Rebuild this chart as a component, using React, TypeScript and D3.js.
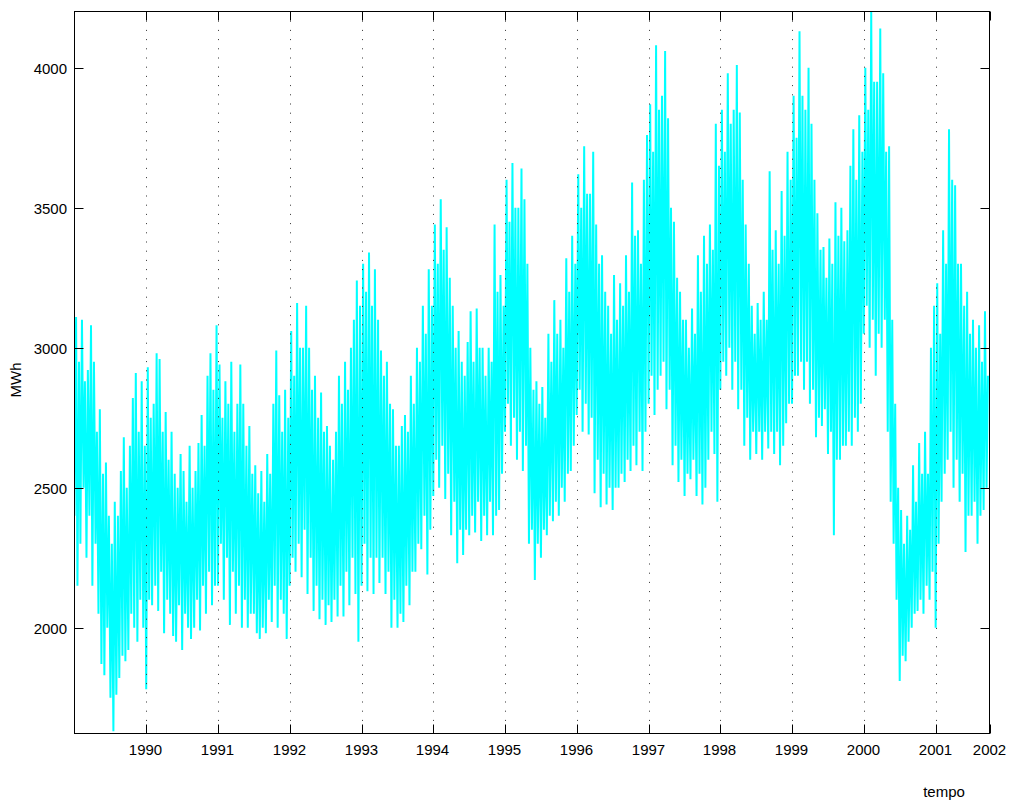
import React, { useMemo } from 'react';
import * as d3 from 'd3';

// Daily load read off the picture as roughly weekly troughs and peaks (MWh), one list per year
const load1989 = [
  2400, 3110, 2150, 2950, 2300, 3100, 2500, 2880, 2250, 2920, 2400, 3080, 2150, 2950, 2300, 2700,
  2050, 2780, 1870, 2550, 1830, 2590, 2000, 2400, 1750, 2300, 1630, 2450, 1760, 2400, 1820, 2560,
  1900, 2680, 1880, 2500, 1920, 2650, 2050, 2820, 2000, 2910, 1950, 2700, 2100, 2880, 2000, 2650,
];
const load1990 = [
  1780, 2930, 2100, 2750, 2080, 2800, 2150, 2980, 2060, 2960, 2200, 2700, 1980, 2770, 2100, 2600,
  2050, 2700, 1970, 2550, 1950, 2500, 2080, 2620, 1920, 2560, 2050, 2450, 2000, 2650, 1960, 2500,
  2000, 2560, 2100, 2660, 1990, 2760, 2150, 2650, 2050, 2900, 2200, 2980, 2080, 2850, 2150, 3080,
];
const load1991 = [
  2150, 2940, 2300, 2750, 2100, 2880, 2250, 2800, 2010, 2950, 2200, 2700, 2050, 2800, 2150, 2940,
  2000, 2800, 2100, 2650, 2000, 2720, 2050, 2550, 2050, 2580, 1980, 2480, 1960, 2560, 2000, 2450,
  1980, 2620, 2100, 2550, 2020, 2800, 2150, 2990, 2000, 2830, 2100, 2700, 2050, 2850, 1960, 2750,
];
const load1992 = [
  2150, 3060, 2250, 2900, 2200, 3160, 2300, 3000, 2180, 3000, 2350, 3150, 2120, 3000, 2250, 2850,
  2060, 2900, 2150, 2750, 2030, 2840, 2100, 2700, 2010, 2720, 2080, 2650, 2020, 2600, 2100, 2700,
  2040, 2900, 2150, 2800, 2040, 2950, 2200, 2850, 2080, 3000, 2250, 3100, 2120, 3240, 1950, 3150,
];
const load1993 = [
  2150, 3300, 2300, 3200, 2130, 3340, 2250, 3150, 2120, 3280, 2250, 3100, 2160, 2990, 2250, 2900,
  2120, 2950, 2200, 2800, 2000, 2780, 2100, 2650, 2000, 2650, 2050, 2720, 2020, 2760, 2150, 2700,
  2080, 2900, 2200, 2800, 2200, 3000, 2300, 2950, 2280, 3150, 2400, 3050, 2190, 3280, 2350, 3150,
];
const load1994 = [
  2470, 3440, 2600, 3300, 2500, 3530, 2650, 3350, 2460, 3430, 2550, 3250, 2330, 3150, 2450, 3000,
  2230, 3060, 2350, 2950, 2260, 2900, 2350, 3020, 2330, 3130, 2400, 2950, 2340, 3140, 2450, 3000,
  2310, 3000, 2400, 2900, 2330, 3000, 2450, 2950, 2330, 3440, 2400, 3200, 2420, 3260, 2550, 3150,
];
const load1995 = [
  2700, 3600, 2800, 3450, 2650, 3660, 2750, 3500, 2600, 3500, 2700, 3640, 2560, 3530, 2650, 3300,
  2300, 3000, 2350, 2850, 2170, 2880, 2300, 2800, 2250, 2860, 2350, 2750, 2330, 3050, 2400, 2950,
  2380, 3170, 2450, 3050, 2400, 3100, 2500, 3000, 2450, 3320, 2550, 3200, 2560, 3400, 2650, 3300,
];
const load1996 = [
  2760, 3620, 2850, 3500, 2700, 3720, 2800, 3550, 2690, 3550, 2750, 3700, 2480, 3440, 2600, 3300,
  2430, 3330, 2550, 3200, 2440, 3150, 2500, 3050, 2420, 3260, 2500, 3100, 2500, 3230, 2550, 3150,
  2520, 3330, 2600, 3200, 2560, 3590, 2650, 3400, 2580, 3420, 2700, 3300, 2560, 3600, 2700, 3760,
];
const load1997 = [
  2800, 3870, 2900, 3700, 2760, 4080, 2850, 3850, 2900, 3900, 2950, 4060, 2780, 3820, 2850, 3500,
  2580, 3450, 2650, 3250, 2520, 3200, 2600, 3100, 2470, 3100, 2550, 3000, 2530, 3140, 2600, 3050,
  2470, 3330, 2550, 3200, 2440, 3400, 2500, 3300, 2600, 3440, 2700, 3350, 2620, 3800, 2450, 3650,
];
const load1998 = [
  2850, 3850, 2950, 3700, 2900, 3980, 3000, 3800, 2850, 3850, 2950, 4010, 2780, 3840, 2850, 3600,
  2650, 3440, 2750, 3300, 2600, 3150, 2700, 3050, 2620, 3160, 2700, 3100, 2600, 3200, 2700, 3100,
  2640, 3630, 2700, 3350, 2620, 3420, 2700, 3300, 2580, 3560, 2650, 3400, 2730, 3700, 2800, 3600,
];
const load1999 = [
  2800, 3900, 2900, 3750, 2900, 4130, 2950, 3900, 2850, 3850, 2950, 4000, 2800, 3800, 2850, 3600,
  2680, 3480, 2750, 3350, 2720, 3360, 2780, 3250, 2620, 3390, 2700, 3300, 2330, 3520, 2600, 3400,
  2600, 3500, 2650, 3380, 2650, 3420, 2700, 3650, 2650, 3780, 2750, 3600, 2700, 3830, 2800, 3700,
];
const load2000 = [
  3050, 4000, 3150, 3850, 3000, 4200, 3100, 3950, 2900, 3950, 3050, 4140, 3000, 3980, 3100, 3700,
  2700, 3720, 2450, 3100, 2300, 2800, 2100, 2500, 1810, 2420, 1900, 2300, 1880, 2400, 1950, 2350,
  2000, 2580, 2050, 2450, 2060, 2660, 2100, 2550, 2050, 2700, 2150, 2550, 2100, 3000, 2200, 3150,
];
const load2001 = [
  2000, 3230, 2300, 3050, 2450, 3420, 2550, 3300, 2600, 3780, 2700, 3600, 2500, 3580, 2600, 3300,
  2450, 3300, 2550, 3150, 2270, 3200, 2400, 3050, 2400, 3100, 2450, 3000, 2300, 3080, 2400, 2950,
  2420, 3130, 2500, 2900,
];

const years = [1989, 1990, 1991, 1992, 1993, 1994, 1995, 1996, 1997, 1998, 1999, 2000, 2001];
const loadByYear = [
  load1989, load1990, load1991, load1992, load1993, load1994, load1995,
  load1996, load1997, load1998, load1999, load2000, load2001,
];

const xTickYears = [1990, 1991, 1992, 1993, 1994, 1995, 1996, 1997, 1998, 1999, 2000, 2001];
const xTickLabels = ['1990', '1991', '1992', '1993', '1994', '1995', '1996', '1997', '1998', '1999', '2000', '2001', '2002'];
const yTicks = [2000, 2500, 3000, 3500, 4000];
const yDomain = [1622, 4201];

const width = 1010;
const height = 803;
const plot = { left: 74.5, top: 11.5, right: 989.5, bottom: 733.5 };
const tickLen = 9;
const font = '"Liberation Sans", Arial, Helvetica, sans-serif';

type Pt = { date: Date; value: number };

export default function App() {
  const series = useMemo<Pt[]>(
    () =>
      loadByYear.flatMap((vals, k) =>
        vals.map((v, i) => ({
          date: d3.timeDay.offset(new Date(years[k], 0, 1), Math.round((i * 365.25) / 48)),
          value: v,
        }))
      ),
    []
  );

  const x = d3
    .scaleTime()
    .domain([new Date(1989, 0, 1), new Date(2001, 9, 2)])
    .range([plot.left, plot.right]);
  const y = d3.scaleLinear().domain(yDomain).range([plot.bottom, plot.top]);

  const linePath =
    d3
      .line<Pt>()
      .x((d) => x(d.date))
      .y((d) => y(d.value))(series) || '';

  const xTicks = [...xTickYears.map((yr) => new Date(yr, 0, 1)), x.domain()[1]];

  return (
    <svg
      width={width}
      height={height}
      style={{ position: 'absolute', left: 0, top: 0, background: '#fff' }}
      fontFamily={font}
    >
      <defs>
        <clipPath id="plot-clip">
          <rect x={plot.left} y={plot.top} width={plot.right - plot.left} height={plot.bottom - plot.top} />
        </clipPath>
      </defs>

      <rect x={0} y={0} width={width} height={height} fill="#fff" />

      {/* data */}
      <path
        d={linePath}
        fill="none"
        stroke="#00ffff"
        strokeWidth={2}
        strokeLinejoin="bevel"
        clipPath="url(#plot-clip)"
      />

      {/* vertical dotted grid */}
      {xTickYears.map((yr) => {
        const px = Math.round(x(new Date(yr, 0, 1))) + 0.5;
        return (
          <line
            key={yr}
            x1={px}
            x2={px}
            y1={plot.top}
            y2={plot.bottom}
            stroke="#333"
            strokeWidth={1}
            strokeDasharray="1,8.2"
          />
        );
      })}

      {/* frame */}
      <rect
        x={plot.left}
        y={plot.top}
        width={plot.right - plot.left}
        height={plot.bottom - plot.top}
        fill="none"
        stroke="#000"
        strokeWidth={1}
      />

      {/* x ticks, bottom and top */}
      {xTicks.map((d, i) => {
        const px = Math.round(x(d)) + 0.5;
        return (
          <g key={i}>
            <line x1={px} x2={px} y1={plot.bottom} y2={plot.bottom - tickLen} stroke="#000" />
            <line x1={px} x2={px} y1={plot.top} y2={plot.top + tickLen} stroke="#000" />
            <text x={px - 1} y={755} textAnchor="middle" fontSize={15} fill="#000">
              {xTickLabels[i]}
            </text>
          </g>
        );
      })}

      {/* y ticks, left and right */}
      {yTicks.map((v) => {
        const py = Math.round(y(v)) + 0.5;
        return (
          <g key={v}>
            <line x1={plot.left} x2={plot.left + tickLen} y1={py} y2={py} stroke="#000" />
            <line x1={plot.right} x2={plot.right - tickLen} y1={py} y2={py} stroke="#000" />
            <text x={67} y={py + 5.5} textAnchor="end" fontSize={15} fill="#000">
              {v}
            </text>
          </g>
        );
      })}

      <text
        transform={`translate(21, 380) rotate(-90)`}
        textAnchor="middle"
        fontSize={15}
        fill="#000"
      >
        MWh
      </text>
      <text x={944} y={797} textAnchor="middle" fontSize={15} fill="#000">
        tempo
      </text>
    </svg>
  );
}
